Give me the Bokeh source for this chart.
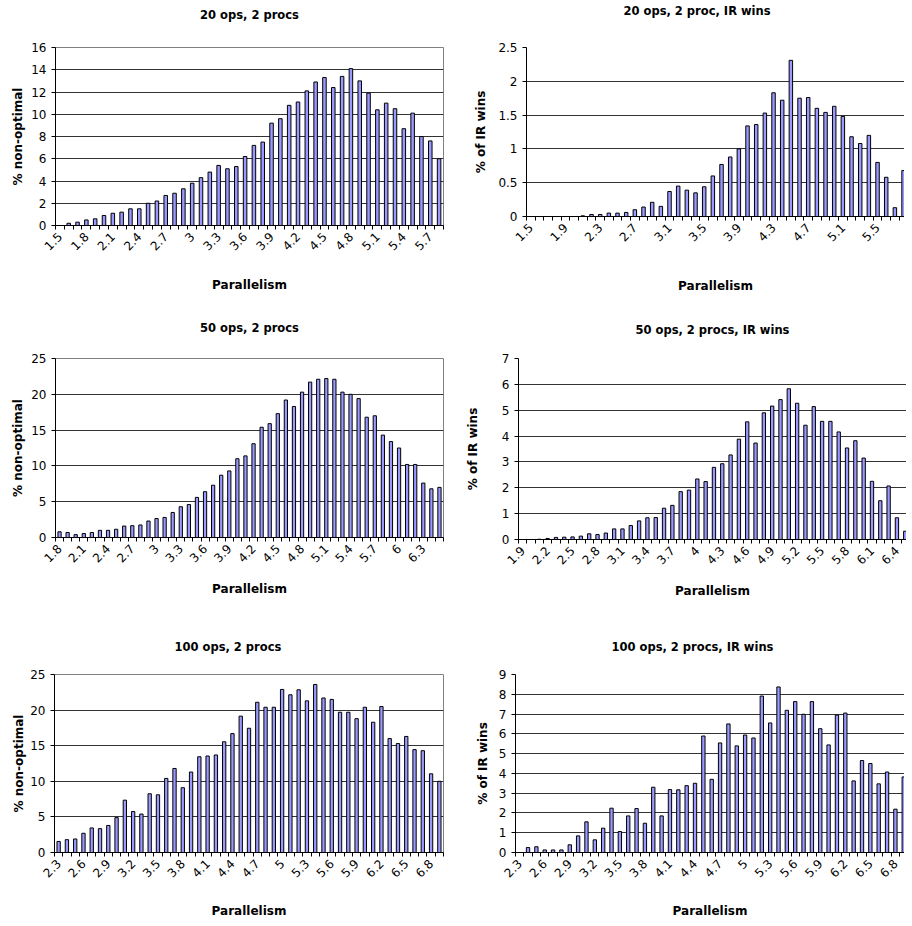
import math
from bokeh.plotting import figure
from bokeh.models import (Range1d, FixedTicker, ColumnDataSource, NumeralTickFormatter,
                          LinearAxis)
from bokeh.layouts import row, column
from bokeh.embed import file_html
from bokeh.resources import INLINE

# ---------------- data ----------------
cats_20 = ["1.5", "1.6", "1.7", "1.8", "1.9", "2", "2.1", "2.2", "2.3", "2.4", "2.5",
           "2.6", "2.7", "2.8", "2.9", "3", "3.1", "3.2", "3.3", "3.4", "3.5", "3.6",
           "3.7", "3.8", "3.9", "4", "4.1", "4.2", "4.3", "4.4", "4.5", "4.6", "4.7",
           "4.8", "4.9", "5", "5.1", "5.2", "5.3", "5.4", "5.5", "5.6", "5.7", "5.8"]
nonopt_20 = [0, 0.2, 0.3, 0.5, 0.6, 0.9, 1.1, 1.2, 1.5, 1.5, 2.0, 2.2, 2.7, 2.9, 3.3,
             3.8, 4.3, 4.8, 5.4, 5.1, 5.3, 6.2, 7.2, 7.5, 9.2, 9.6, 10.8, 11.1, 12.1,
             12.9, 13.3, 12.4, 13.4, 14.1, 13.0, 11.9, 10.4, 11.0, 10.5, 8.7, 10.1,
             8.0, 7.6, 6.0]
irwins_20 = [0, 0, 0, 0, 0, 0, 0.01, 0.03, 0.03, 0.05, 0.05, 0.06, 0.1, 0.14, 0.21,
             0.15, 0.37, 0.45, 0.39, 0.35, 0.44, 0.6, 0.77, 0.88, 1.0, 1.34, 1.36,
             1.53, 1.83, 1.72, 2.31, 1.75, 1.76, 1.6, 1.54, 1.63, 1.48, 1.18, 1.08,
             1.2, 0.8, 0.58, 0.13, 0.68]
ticks_20a = ["1.5", "1.8", "2.1", "2.4", "2.7", "3", "3.3", "3.6", "3.9", "4.2", "4.5",
             "4.8", "5.1", "5.4", "5.7"]
ticks_20b = ["1.5", "1.9", "2.3", "2.7", "3.1", "3.5", "3.9", "4.3", "4.7", "5.1", "5.5"]

cats_50a = ["1.8", "1.9", "2", "2.1", "2.2", "2.3", "2.4", "2.5", "2.6", "2.7", "2.8",
            "2.9", "3", "3.1", "3.2", "3.3", "3.4", "3.5", "3.6", "3.7", "3.8", "3.9",
            "4", "4.1", "4.2", "4.3", "4.4", "4.5", "4.6", "4.7", "4.8", "4.9", "5",
            "5.1", "5.2", "5.3", "5.4", "5.5", "5.6", "5.7", "5.8", "5.9", "6", "6.1",
            "6.2", "6.3", "6.4", "6.5"]
nonopt_50 = [0.8, 0.7, 0.4, 0.55, 0.7, 1.0, 1.0, 1.15, 1.6, 1.65, 1.75, 2.3, 2.65, 2.8,
             3.5, 4.3, 4.6, 5.6, 6.4, 7.3, 8.7, 9.3, 11.0, 11.4, 13.1, 15.4, 15.9,
             17.3, 19.2, 18.3, 20.3, 21.7, 22.1, 22.2, 22.1, 20.3, 20.0, 19.4, 16.8,
             17.0, 14.3, 13.4, 12.5, 10.2, 10.2, 7.6, 6.8, 7.0]
ticks_50a = ["1.8", "2.1", "2.4", "2.7", "3", "3.3", "3.6", "3.9", "4.2", "4.5", "4.8",
             "5.1", "5.4", "5.7", "6", "6.3"]

cats_50b = ["1.9", "2", "2.1", "2.2", "2.3", "2.4", "2.5", "2.6", "2.7", "2.8", "2.9",
            "3", "3.1", "3.2", "3.3", "3.4", "3.5", "3.6", "3.7", "3.8", "3.9", "4",
            "4.1", "4.2", "4.3", "4.4", "4.5", "4.6", "4.7", "4.8", "4.9", "5", "5.1",
            "5.2", "5.3", "5.4", "5.5", "5.6", "5.7", "5.8", "5.9", "6", "6.1", "6.2",
            "6.3", "6.4", "6.5"]
irwins_50 = [0, 0, 0.01, 0.04, 0.08, 0.09, 0.1, 0.13, 0.22, 0.19, 0.25, 0.41, 0.41,
             0.54, 0.72, 0.84, 0.85, 1.21, 1.32, 1.85, 1.91, 2.34, 2.24, 2.79, 2.93,
             3.27, 3.88, 4.55, 3.73, 4.9, 5.16, 5.41, 5.83, 5.27, 4.42, 5.14, 4.57,
             4.57, 4.16, 3.54, 3.82, 3.15, 2.25, 1.5, 2.07, 0.84, 0.32]
ticks_50b = ["1.9", "2.2", "2.5", "2.8", "3.1", "3.4", "3.7", "4", "4.3", "4.6", "4.9",
             "5.2", "5.5", "5.8", "6.1", "6.4"]

cats_100 = ["2.3", "2.4", "2.5", "2.6", "2.7", "2.8", "2.9", "3", "3.1", "3.2", "3.3",
            "3.4", "3.5", "3.6", "3.7", "3.8", "3.9", "4", "4.1", "4.2", "4.3", "4.4",
            "4.5", "4.6", "4.7", "4.8", "4.9", "5", "5.1", "5.2", "5.3", "5.4", "5.5",
            "5.6", "5.7", "5.8", "5.9", "6", "6.1", "6.2", "6.3", "6.4", "6.5", "6.6",
            "6.7", "6.8", "6.9"]
nonopt_100 = [1.55, 1.8, 1.9, 2.7, 3.45, 3.35, 3.8, 4.9, 7.35, 5.75, 5.4, 8.25, 8.1,
              10.4, 11.8, 9.1, 11.3, 13.45, 13.55, 13.7, 15.55, 16.7, 19.15, 17.45,
              21.1, 20.4, 20.4, 22.9, 22.15, 22.85, 21.3, 23.6, 21.7, 21.5, 19.7, 19.7,
              18.8, 20.4, 18.3, 20.5, 16.0, 15.3, 16.3, 14.45, 14.3, 11.05, 10.0]
irwins_100 = [0, 0.25, 0.29, 0.13, 0.13, 0.13, 0.39, 0.84, 1.55, 0.64, 1.23, 2.24, 1.06,
              1.85, 2.22, 1.48, 3.3, 1.85, 3.18, 3.17, 3.38, 3.5, 5.89, 3.7, 5.54, 6.5,
              5.39, 5.94, 5.79, 7.91, 6.55, 8.37, 7.19, 7.63, 6.99, 7.63, 6.26, 5.44,
              6.95, 7.05, 3.62, 4.65, 4.5, 3.47, 4.07, 2.19, 3.82]
ticks_100 = ["2.3", "2.6", "2.9", "3.2", "3.5", "3.8", "4.1", "4.4", "4.7", "5", "5.3",
             "5.6", "5.9", "6.2", "6.5", "6.8"]

# ---------------- style ----------------
FONT = "DejaVu Sans"
BAR_FILL = "#9999FF"
GRID = "#333333"


def panel(cats, vals, tick_labels, ymax, ystep, ylabel, title,
          bl, fw, br, bt, fh, bb, x_end, title_align, title_offset, title_gap,
          ylab_standoff, xlab_standoff, outline):
    n = len(cats)
    src = ColumnDataSource(dict(x=list(range(n)), top=vals, cat=cats))
    p = figure(title=title, frame_width=fw, frame_height=fh,
               min_border_left=bl, min_border_right=br,
               min_border_top=bt, min_border_bottom=bb,
               x_range=Range1d(-0.5, x_end), y_range=Range1d(0, ymax),
               output_backend="svg", toolbar_location=None, tools="")
    p.vbar(x="x", top="top", width=0.4, source=src,
           fill_color=BAR_FILL, line_color="black", line_width=1)

    ticks = [cats.index(t) for t in tick_labels]
    xa = p.xaxis[0]
    xa.ticker = FixedTicker(ticks=ticks, minor_ticks=[i - 0.5 for i in range(n + 1)])
    xa.major_label_overrides = {i: cats[i] for i in ticks}
    xa.major_label_orientation = math.pi / 4
    xa.major_tick_line_color = None
    xa.major_tick_out = 4
    xa.major_tick_in = 0
    xa.minor_tick_line_color = "black"
    xa.minor_tick_out = 4
    xa.minor_tick_in = 0
    xa.axis_line_color = "black"
    xa.axis_label = "Parallelism"
    xa.axis_label_standoff = xlab_standoff

    ya = p.yaxis[0]
    nt = int(round(ymax / ystep))
    ya.ticker = FixedTicker(ticks=[round(k * ystep, 2) for k in range(nt + 1)])
    ya.formatter = NumeralTickFormatter(format="0.[0]")
    ya.major_tick_out = 4
    ya.major_tick_in = 0
    ya.minor_tick_line_color = None
    ya.axis_line_color = "black"
    ya.axis_label = ylabel
    ya.axis_label_standoff = ylab_standoff

    for ax in (xa, ya):
        ax.major_label_text_font = FONT
        ax.major_label_text_font_size = "12px"
        ax.major_label_text_color = "black"
        ax.axis_label_text_font = FONT
        ax.axis_label_text_font_size = "12px"
        ax.axis_label_text_font_style = "bold"
        ax.axis_label_text_color = "black"
        ax.major_label_standoff = 5

    p.xgrid.visible = False
    p.ygrid.grid_line_color = GRID
    p.ygrid.grid_line_width = 1
    p.outline_line_color = "#808080" if outline else None
    p.background_fill_color = "white"
    p.border_fill_color = "white"

    # invisible spacer axis between the chart title and the plot area
    spacer = LinearAxis(ticker=FixedTicker(ticks=[0]), axis_line_color=None,
                        major_tick_line_color=None, minor_tick_line_color=None,
                        major_tick_out=title_gap, major_tick_in=0, minor_tick_out=0,
                        major_label_standoff=0, major_label_overrides={0: ""},
                        major_label_text_font_size="1px")
    p.add_layout(spacer, "above")

    t = p.title
    t.align = title_align
    t.offset = title_offset
    t.standoff = 0
    t.text_font = FONT
    t.text_font_size = "11.5px"
    t.text_font_style = "bold"
    t.text_color = "black"
    return p


p1 = panel(cats_20, nonopt_20, ticks_20a, 16, 2, "% non-optimal", "20 ops, 2 procs",
           55, 388, 19, 43, 178, 83, 43.5, "center", 0, 26, 3, 21, True)
p2 = panel(cats_20, irwins_20, ticks_20b, 2.5, 0.5, "% of IR wins", "20 ops, 2 proc, IR wins",
           64, 378, 0, 47, 169, 88, 43.11, "left", 97, 30, 7, 31, False)
p3 = panel(cats_50a, nonopt_50, ticks_50a, 25, 5, "% non-optimal", "50 ops, 2 procs",
           55, 388, 19, 54, 179, 80, 47.5, "center", 0, 24, 3, 13, True)
p4 = panel(cats_50b, irwins_50, ticks_50b, 7, 1, "% of IR wins", "50 ops, 2 procs, IR wins",
           54, 388, 0, 52, 181, 80, 46.15, "left", 117, 22, 19, 13, False)
p5 = panel(cats_100, nonopt_100, ticks_100, 25, 5, "% non-optimal", "100 ops, 2 procs",
           54, 389, 19, 57, 178, 58, 46.5, "left", 120, 21, 1, 20, True)
p6 = panel(cats_100, irwins_100, ticks_100, 9, 1, "% of IR wins", "100 ops, 2 procs, IR wins",
           53, 389, 0, 57, 178, 58, 46.09, "left", 96, 21, 6, 20, False)

layout = column(row(p1, p2), row(p3, p4), row(p5, p6))
open("out.html", "w").write(file_html(layout, INLINE))
